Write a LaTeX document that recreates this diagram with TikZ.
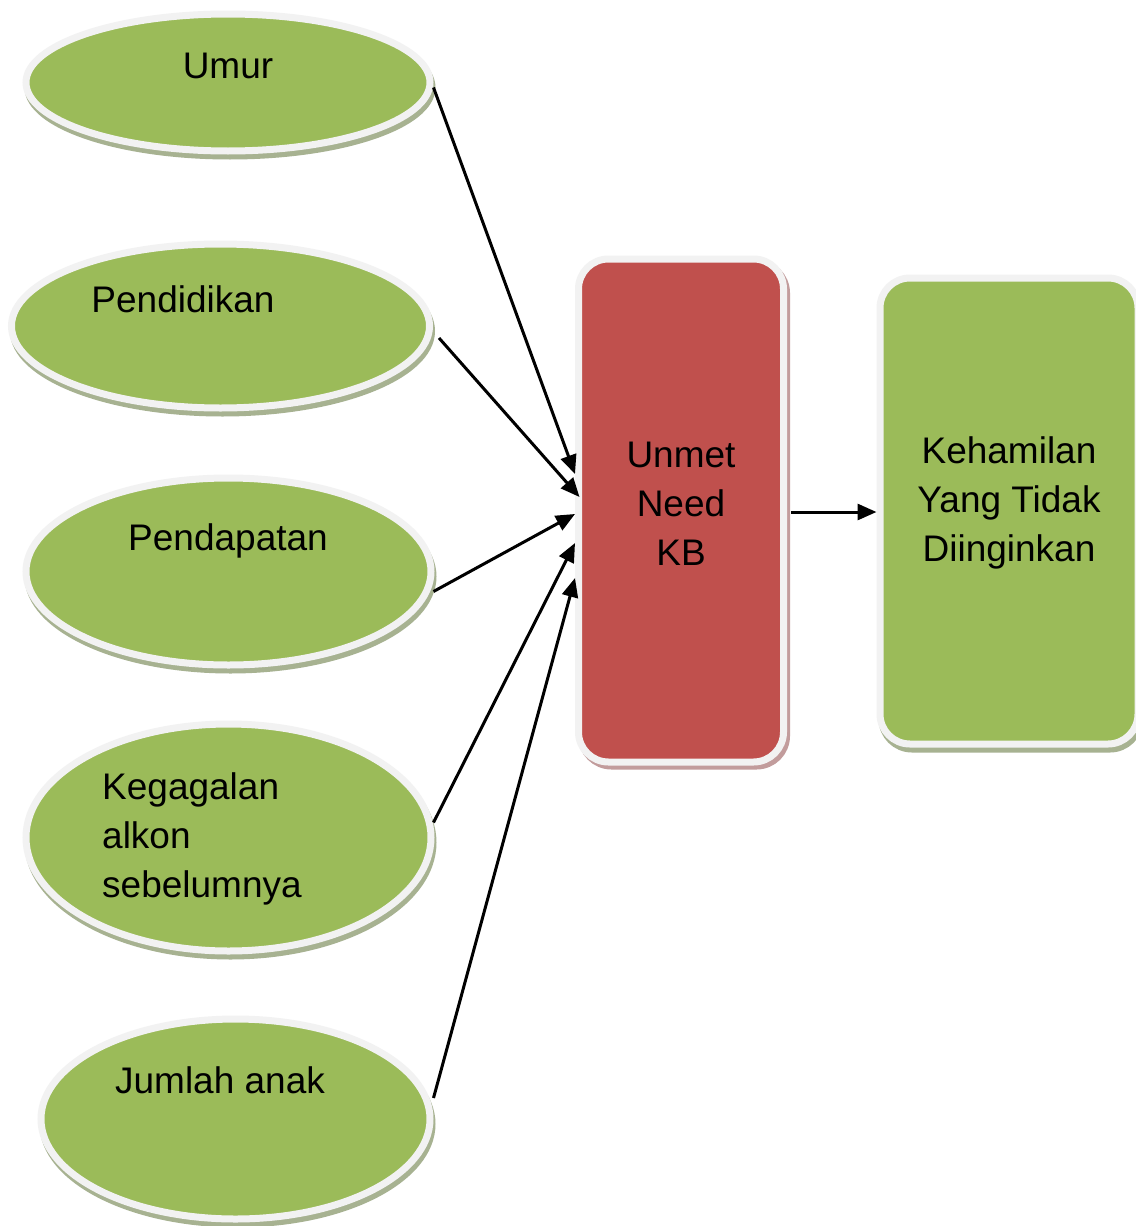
\documentclass[tikz,border=0pt]{standalone}
\usepackage{fontspec}
\setmainfont{Liberation Sans}
\usetikzlibrary{shapes.geometric,arrows.meta,shadows,calc}
\definecolor{grn}{HTML}{9BBB59}
\definecolor{rd}{HTML}{C0504D}
\definecolor{rim}{HTML}{F2F2F2}
\definecolor{gsh}{HTML}{A7B291}
\definecolor{rsh}{HTML}{C29C9C}
\begin{document}
\begin{tikzpicture}[x=1pt,y=-1pt,
  oval/.style={ellipse, fill=grn, draw=rim, line width=7pt, inner sep=0pt,
    general shadow={fill=gsh, draw=gsh, line width=7pt, shadow xshift=2pt, shadow yshift=-5pt}},
  gbox/.style={rectangle, rounded corners=30pt, fill=grn, draw=rim, line width=7pt, inner sep=0pt,
    general shadow={fill=gsh, draw=gsh, line width=7pt, shadow xshift=2pt, shadow yshift=-5pt}},
  rbox/.style={rectangle, rounded corners=30pt, fill=rd, draw=rim, line width=7pt, inner sep=0pt,
    general shadow={fill=rsh, draw=rsh, line width=7pt, shadow xshift=3pt, shadow yshift=-4pt}},
  lbl/.style={inner sep=0pt, font=\fontsize{37}{49}\selectfont},
  arr/.style={line width=3pt, -{Triangle[length=19pt,width=16pt]}}
]
\useasboundingbox (0,0) rectangle (1135,1226);
\fill[white] (0,0) rectangle (1135,1226);

% ellipses
\node[oval, minimum width=404pt, minimum height=137pt] (e1) at (228,82.5) {};
\node[oval, minimum width=418pt, minimum height=164pt] (e2) at (220.5,326) {};
\node[oval, minimum width=405pt, minimum height=187pt] (e3) at (228.5,571.5) {};
\node[oval, minimum width=405pt, minimum height=227pt] (e4) at (228.5,837.5) {};
\node[oval, minimum width=389pt, minimum height=200pt] (e5) at (235.5,1119) {};

% boxes
\node[rbox, minimum width=205pt, minimum height=503pt] (red) at (681,510.5) {};
\node[gbox, minimum width=258pt, minimum height=466pt] (grnbox) at (1009,511) {};

% labels
\node[lbl, anchor=base] (t1) at (228,78) {Umur};
\node[lbl, anchor=base] (t2) at (183,312) {Pendidikan};
\node[lbl, anchor=base] (t3) at (228,550) {Pendapatan};
\node[lbl, anchor=west, align=left] (t4) at (102,839) {Kegagalan\\alkon\\sebelumnya};
\node[lbl, anchor=base] (t5) at (220,1093) {Jumlah anak};
\node[lbl, align=center] (t6) at (681,503.5) {Unmet\\Need\\KB};
\node[lbl, align=center] (t7) at (1009,503) {Kehamilan\\Yang Tidak\\Diinginkan};

% connectors
\draw[arr] ($(e1.east)+(0,5)$) -- ($(red.west)+(0,-36.5)$);
\draw[arr] ($(e2.east)+(6,12)$) -- ($(red.west)+(4.5,-13.5)$);
\draw[arr] ($(e3.east)+(-1,20)$) -- ($(red.west)+(0,3.5)$);
\draw[arr] ($(e4.east)+(-1,-15)$) -- ($(red.west)+(0,32.5)$);
\draw[arr] ($(e5.east)+(0,-21)$) -- ($(red.west)+(0,67.5)$);
\draw[arr] ($(red.east)+(4,1.5)$) -- ($(grnbox.west)+(0,1)$);
\end{tikzpicture}
\end{document}
